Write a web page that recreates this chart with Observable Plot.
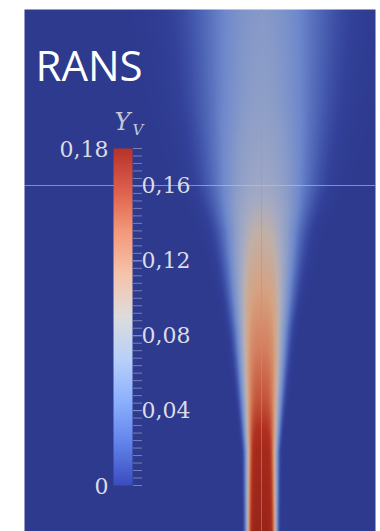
<!DOCTYPE html>
<html><head><meta charset="utf-8">
<script src="https://cdn.jsdelivr.net/npm/d3@7"></script>
<script src="https://cdn.jsdelivr.net/npm/@observablehq/plot@0.6"></script>
<style>
html,body{margin:0;padding:0;background:#fff;}
#wrap{position:relative;width:380px;height:531px;overflow:hidden;}
#wrap svg{position:absolute;left:0;top:0;}
</style></head><body><div id="wrap"></div>
<script>
// Axial stations (mm from the bottom of the view) and jet profile parameters
const axialPos     = [0,    8,    13,    20,    30,   35,    43,    52.2];
const centerlineYV = [0.19, 0.18, 0.158, 0.135, 0.1,  0.078, 0.065, 0.058];
const halfWidth    = [1.4,  1.4,  1.65,  2.1,   3.0,  3.9,   4.5,   5.0];
const profileExp   = [6,    5,    4,     3.5,   2.7,  2.4,   2.1,   2];
const probeHeight  = [34.6];
const axisLine     = [0];
const title        = ["RANS"];

// field colour map (rendered, darkened cool-to-warm)
const fieldStops  = [0, 0.006, 0.02, 0.04, 0.062, 0.085, 0.1, 0.12, 0.14, 0.155, 0.17, 0.19];
const fieldColors = ["#2d3a8e","#33419a","#4b62b4","#6e88cc","#8a9cc8","#a4aac4","#c0b0a8","#d6a282","#d48060","#c65a40","#b03020","#982418"];

// colour bar
const barStops  = [0, 0.0225, 0.045, 0.0675, 0.09, 0.1125, 0.135, 0.1575, 0.18];
const barColors = ["#3b4cc0","#6282ea","#8db0fe","#b8d0f9","#dddcdc","#f5c4ac","#f49a7b","#de604d","#b8332a"];
const barMin = 0, barMax = 0.18;
const minorTicks = d3.range(0, 0.1801, 0.004);
const majorTicks = [0.04, 0.08, 0.12, 0.16];
const endTicks   = [0, 0.18];
const fmt = d => d === 0 ? "0" : d3.format(".2f")(d).replace(".", ",");

const xDom = [-23.7, 11.4], yDom = [0, 52.2];
const interp = arr => d3.scaleLinear().domain(axialPos).range(arr).clamp(true);
const Yc = interp(centerlineYV), H = interp(halfWidth), P = interp(profileExp);
const field = (x, y) => Yc(y) * Math.pow(2, -Math.pow(Math.abs(x) / H(y), P(y)));

const fieldPlot = Plot.plot({
  width: 380, height: 531,
  marginLeft: 24, marginRight: 5, marginTop: 9, marginBottom: 0,
  x: {domain: xDom, axis: null},
  y: {domain: yDom, axis: null},
  color: {type: "linear", domain: fieldStops, range: fieldColors, interpolate: "rgb", clamp: true},
  style: {background: "transparent", overflow: "visible"},
  marks: [
    Plot.raster({fill: field, x1: xDom[0], x2: xDom[1], y1: yDom[0], y2: yDom[1], pixelSize: 1}),
    Plot.ruleX(axisLine, {stroke: "#9a9aa8", strokeOpacity: 0.55}),
    Plot.ruleY(probeHeight, {stroke: "#c0c4dc", strokeOpacity: 0.6}),
    Plot.text(title, {frameAnchor: "top-left", textAnchor: "start", lineAnchor: "bottom",
      dx: 11, dy: 71, fill: "white", fontSize: 42, fontFamily: "Open Sans"})
  ]
});

const barPlot = Plot.plot({
  width: 380, height: 531,
  marginLeft: 113, marginRight: 248, marginTop: 148, marginBottom: 46,
  x: {domain: [0, 1], axis: null},
  y: {domain: [barMin, barMax], axis: null},
  color: {type: "linear", domain: barStops, range: barColors, interpolate: "rgb", clamp: true},
  style: {background: "transparent", overflow: "visible", fontFamily: "DejaVu Serif", fontSize: "22px"},
  marks: [
    Plot.raster({fill: (x, y) => y, x1: 0, x2: 1, y1: barMin, y2: barMax, pixelSize: 1}),
    Plot.axisY(minorTicks, {anchor: "right", tickSize: 9, tickFormat: () => "", stroke: "#7880b4", label: null}),
    Plot.axisY(majorTicks, {anchor: "right", tickSize: 9, tickPadding: 0, tickFormat: fmt, stroke: "#8890c0",
      fill: "#dcdce8", fontSize: 22, fontFamily: "DejaVu Serif", label: null}),
    Plot.text(endTicks, {y: d => d, frameAnchor: "left", textAnchor: "end", dx: -5, dy: 1, text: fmt,
      fill: "#dcdce8", fontSize: 22, fontFamily: "DejaVu Serif"}),
    Plot.text(["Y"], {frameAnchor: "top-left", textAnchor: "start", lineAnchor: "bottom", dx: 1, dy: -19,
      fill: "#c4c8dc", fontSize: 24, fontStyle: "italic", fontFamily: "DejaVu Serif"}),
    Plot.text(["V"], {frameAnchor: "top-left", textAnchor: "start", lineAnchor: "bottom", dx: 19, dy: -14,
      fill: "#c4c8dc", fontSize: 15, fontStyle: "italic", fontFamily: "DejaVu Serif"})
  ]
});

const wrap = document.getElementById("wrap");
wrap.appendChild(fieldPlot);
wrap.appendChild(barPlot);
</script></body></html>
